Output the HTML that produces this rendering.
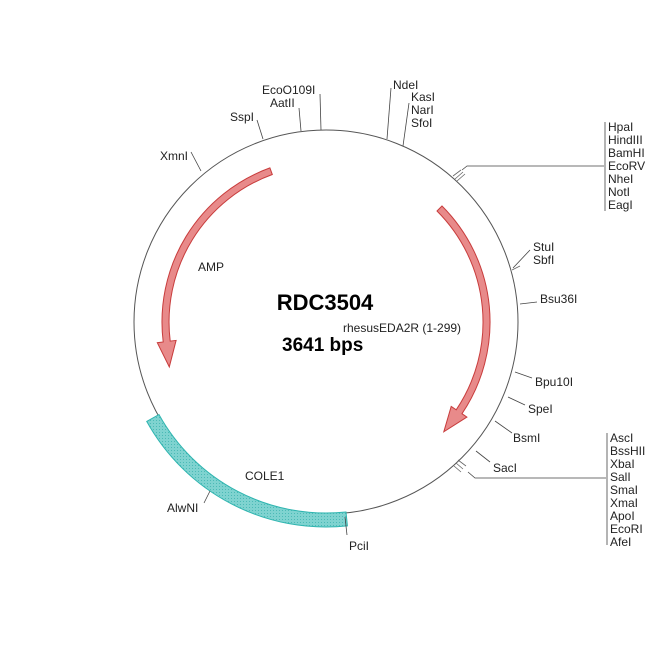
<!DOCTYPE html>
<html><head><meta charset="utf-8"><style>
html,body{margin:0;padding:0;background:#fff;}
svg{display:block;}
text{font-family:"Liberation Sans",sans-serif;font-size:12px;fill:#222;}
</style></head><body>
<svg width="650" height="650" viewBox="0 0 650 650">
<defs>
<pattern id="hc" width="3" height="3" patternUnits="userSpaceOnUse">
<rect width="3" height="3" fill="#7fd3d0"/><rect width="1" height="1" fill="#4bbab6"/>
</pattern>
</defs>
<circle cx="326" cy="322" r="192" fill="none" stroke="#555" stroke-width="1"/>
<path d="M347.4,525.9 A205,205 0 0 1 146.7,421.4 L159.0,414.6 A191,191 0 0 0 346.0,512.0 Z" fill="url(#hc)" stroke="#2fb5b0" stroke-width="1"/>
<path d="M269.9,167.9 A164,164 0 0 0 163.2,342.0 L157.3,342.7 L169.3,366.9 L176.1,340.4 L170.2,341.1 A157,157 0 0 1 272.3,174.5 Z" fill="#e88a8a" stroke="#c83c3c" stroke-width="1"/>
<path d="M442.0,206.0 A164,164 0 0 1 462.0,413.7 L466.9,417.1 L443.8,431.8 L451.2,406.4 L456.2,409.8 A157,157 0 0 0 437.0,211.0 Z" fill="#e88a8a" stroke="#c83c3c" stroke-width="1"/>
<g stroke="#444" stroke-width="0.8" fill="none">
<line x1="201" y1="171" x2="191" y2="152"/>
<line x1="263" y1="139" x2="257" y2="120"/>
<line x1="301" y1="131" x2="299" y2="108"/>
<line x1="321" y1="130" x2="320" y2="94"/>
<line x1="387" y1="139" x2="391" y2="88"/>
<line x1="403" y1="146" x2="409" y2="103"/>
<polyline points="462,170 467,166 604,166"/>
<line x1="605" y1="122" x2="605" y2="211"/>
<line x1="513" y1="268" x2="530" y2="250"/>
<line x1="520" y1="304" x2="537" y2="302"/>
<line x1="515" y1="372" x2="532" y2="378"/>
<line x1="508" y1="397" x2="525" y2="405"/>
<line x1="495" y1="421" x2="512" y2="433"/>
<line x1="476" y1="451" x2="490" y2="462"/>
<polyline points="468,472 475,478 606,478"/>
<line x1="607" y1="433" x2="607" y2="545"/>
<line x1="345" y1="517" x2="347" y2="535"/>
<line x1="210" y1="491" x2="204" y2="503"/>
</g>
<g stroke="#666" stroke-width="0.8">
<line x1="453" y1="176" x2="461" y2="170"/><line x1="455" y1="179" x2="463" y2="172"/><line x1="457" y1="181" x2="465" y2="174"/>
<line x1="458" y1="460" x2="466" y2="466"/><line x1="456" y1="463" x2="463" y2="469"/><line x1="454" y1="466" x2="461" y2="472"/>
<line x1="512" y1="270" x2="520" y2="266"/>
</g>
<text x="160" y="160">XmnI</text>
<text x="230" y="121">SspI</text>
<text x="270" y="107">AatII</text>
<text x="262" y="94">EcoO109I</text>
<text x="393" y="89">NdeI</text>
<text x="411" y="101">KasI</text>
<text x="411" y="114">NarI</text>
<text x="411" y="127">SfoI</text>
<text x="608" y="131">HpaI</text>
<text x="608" y="144">HindIII</text>
<text x="608" y="157">BamHI</text>
<text x="608" y="170">EcoRV</text>
<text x="608" y="183">NheI</text>
<text x="608" y="196">NotI</text>
<text x="608" y="209">EagI</text>
<text x="533" y="251">StuI</text>
<text x="533" y="264">SbfI</text>
<text x="540" y="303">Bsu36I</text>
<text x="535" y="386">Bpu10I</text>
<text x="528" y="413">SpeI</text>
<text x="513" y="442">BsmI</text>
<text x="493" y="472">SacI</text>
<text x="610" y="442">AscI</text>
<text x="610" y="455">BssHII</text>
<text x="610" y="468">XbaI</text>
<text x="610" y="481">SalI</text>
<text x="610" y="494">SmaI</text>
<text x="610" y="507">XmaI</text>
<text x="610" y="520">ApoI</text>
<text x="610" y="533">EcoRI</text>
<text x="610" y="546">AfeI</text>
<text x="349" y="550">PciI</text>
<text x="167" y="512">AlwNI</text>
<text x="198" y="271">AMP</text>
<text x="245" y="480">COLE1</text>
<text x="343" y="332">rhesusEDA2R (1-299)</text>
<text x="325" y="310" text-anchor="middle" style="font-size:22px;font-weight:bold;fill:#000">RDC3504</text>
<text x="282" y="351" style="font-size:19px;font-weight:bold;fill:#000">3641 bps</text>
</svg>
</body></html>
